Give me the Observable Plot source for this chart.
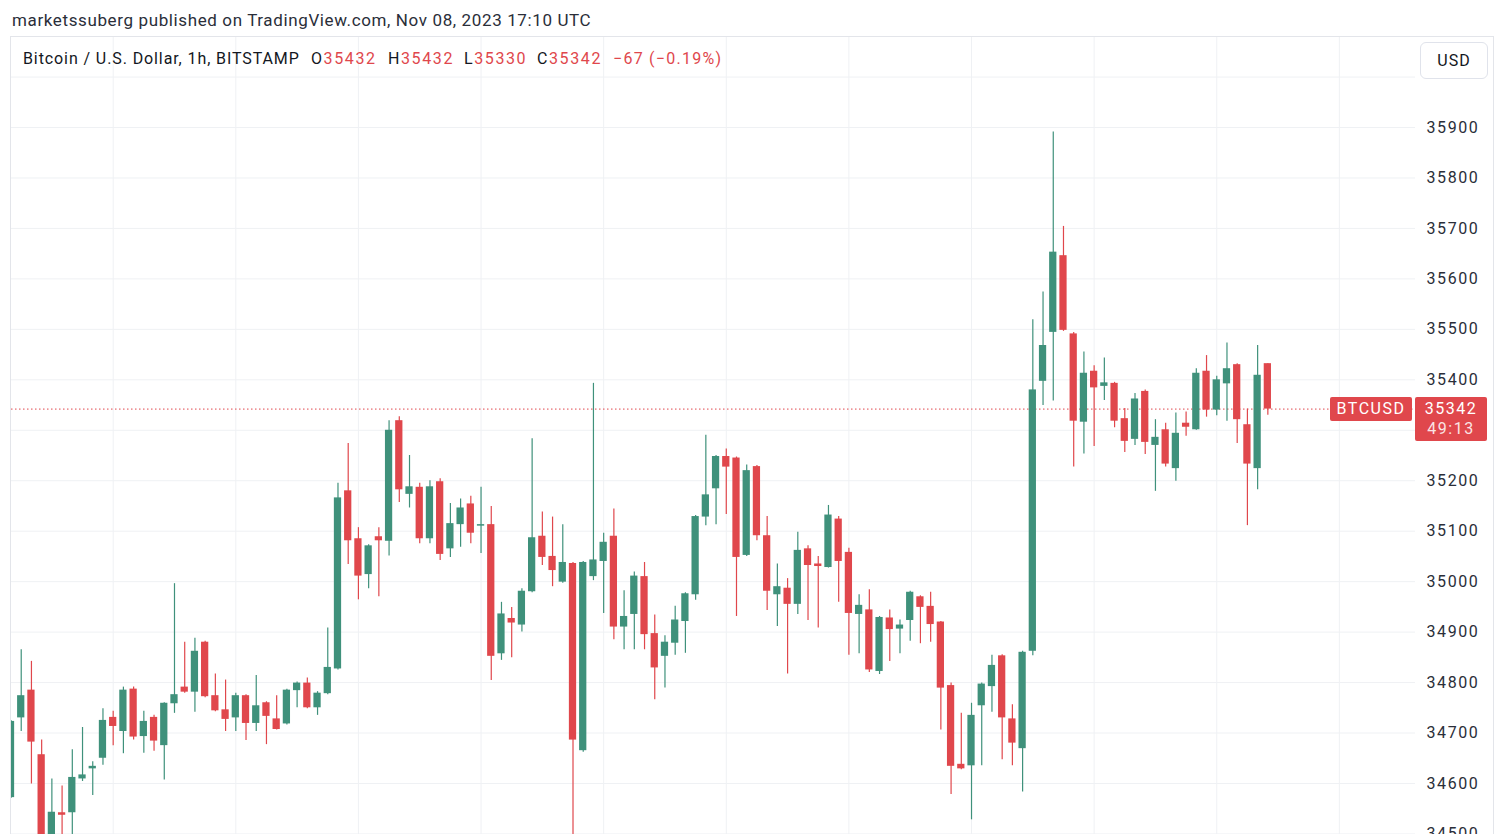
<!DOCTYPE html>
<html><head><meta charset="utf-8">
<script src="https://cdn.jsdelivr.net/npm/d3@7"></script>
<script src="https://cdn.jsdelivr.net/npm/@observablehq/plot@0.6"></script>
<style>
html,body{margin:0;padding:0;background:#fff;width:1508px;height:834px;overflow:hidden;font-family:Roboto,"Noto Sans",sans-serif;}
#title{position:absolute;left:12px;top:10px;font-size:17px;letter-spacing:0.62px;color:#2a2e39;white-space:pre;}
#frame{position:absolute;left:10px;top:36px;width:1484px;height:820px;border:1px solid #e3e5ea;box-sizing:border-box;}
#chart{position:absolute;left:0;top:37px;}
.lg{position:absolute;top:49px;font-size:16px;color:#131722;white-space:pre;line-height:20px;}
.lg .v{color:#e0474c}
#usd{position:absolute;left:1420px;top:42px;width:68px;height:37px;border:1px solid #e0e3eb;border-radius:6px;box-sizing:border-box;font-size:16px;letter-spacing:1px;color:#131722;display:flex;align-items:center;justify-content:center;background:#fff;}
.tag{position:absolute;background:#e0474c;color:#fff;font-size:16px;border-radius:2px;letter-spacing:1.5px;}
.tl{position:absolute;left:0;width:100%;text-align:center;line-height:18px;height:18px;}
</style>
</head><body>
<div id="title">marketssuberg published on TradingView.com, Nov 08, 2023 17:10 UTC</div>
<div id="frame"></div>
<div id="chart"></div>
<div id="usd">USD</div>
<script>
const symbolName = "Bitcoin / U.S. Dollar, 1h, BITSTAMP";
const countdown = "49:13";
const tickerLabel = "BTCUSD";
const yTicks = [34500,34600,34700,34800,34900,35000,35100,35200,35300,35400,35500,35600,35700,35800,35900,36000];
// 35300 sits under the price tag and 36000 under the USD button, as in the source
const yLabels = [34500,34600,34700,34800,34900,35000,35100,35200,35400,35500,35600,35700,35800,35900];

const opens = [34572,34730,34785,34657,34472,34542,34542,34609,34629,34650,34731,34703,34787,34693,34731,34675,34758,34791,34781,34880,
34774,34746,34730,34774,34719,34760,34728,34718,34784,34799,34750,34778,34827,35180,35085,35014,35089,35080,35319,35173,
35187,35085,35198,35065,35113,35154,35110,35113,34857,34927,34914,34980,35090,35050,34999,35036,34665,35010,35040,35090,
34910,34935,35010,34897,34852,34878,34921,34974,35128,35184,35248,35245,35052,35228,35091,34974,34987,34955,35065,35035,
35028,35124,35058,34935,34944,34822,34928,34906,34923,34970,34951,34920,34794,34638,34635,34754,34792,34853,34728,34669,
34862,35397,35494,35646,35491,35316,35417,35387,35393,35323,35282,35377,35270,35301,35224,35314,35301,35417,35340,35392,
35430,35311,35224,35432];
const highs = [34725,34865,34842,34686,34609,34595,34667,34711,34643,34748,34743,34791,34791,34743,34735,34760,34996,34880,34888,34882,
34817,34805,34779,34776,34814,34762,34774,34787,34801,34809,34782,34908,35195,35274,35107,35073,35107,35319,35327,35250,
35195,35200,35204,35155,35164,35169,35187,35149,34959,34949,34986,35283,35138,35128,35113,35038,35040,35393,35096,35144,
34982,35019,35038,34934,34893,34951,34978,35131,35290,35250,35263,35247,35231,35230,35129,35035,35006,35098,35071,35050,
35151,35129,35066,34974,34984,34931,34944,34924,34981,34972,34979,34921,34799,34739,34759,34799,34854,34855,34756,34862,
35519,35574,35891,35704,35494,35455,35428,35443,35395,35343,35373,35380,35321,35314,35334,35336,35422,35448,35407,35473,
35432,35342,35468,35432];
const lows = [34570,34703,34599,34440,34460,34470,34480,34604,34576,34636,34675,34659,34686,34660,34664,34607,34739,34779,34741,34770,
34742,34703,34703,34685,34703,34677,34706,34716,34750,34748,34735,34776,34825,35034,34964,34986,34970,35051,35157,35146,
35075,35075,35042,35048,35068,35075,35056,34804,34844,34849,34900,34978,35032,34990,34997,34480,34662,35002,34937,34885,
34865,34865,34865,34766,34789,34854,34858,34963,35111,35113,35133,34931,35050,35081,34943,34911,34817,34935,34923,34908,
35027,34959,34854,34857,34820,34816,34842,34857,34882,34877,34880,34706,34578,34627,34528,34635,34741,34647,34635,34583,
34853,35349,35358,35496,35227,35253,35268,35359,35305,35256,35270,35252,35179,35227,35199,35288,35300,35326,35329,35318,
35274,35111,35182,35330];
const closes = [34723,34774,34682,34470,34543,34537,34612,34617,34634,34725,34713,34785,34692,34723,34684,34759,34776,34781,34862,34772,
34744,34727,34774,34719,34754,34733,34707,34785,34799,34750,34779,34830,35166,35081,35011,35071,35081,35300,35182,35188,
35085,35188,35054,35115,35146,35096,35113,34852,34936,34918,34981,35087,35048,35022,35038,34686,35038,35043,35078,34910,
34931,35011,34895,34829,34880,34924,34976,35129,35172,35248,35227,35048,35220,35091,34981,34990,34955,35062,35032,35030,
35132,35040,34937,34953,34825,34929,34905,34914,34979,34949,34915,34789,34634,34629,34735,34797,34834,34730,34680,34860,
35380,35468,35653,35498,35318,35413,35384,35394,35318,35278,35362,35276,35286,35233,35294,35306,35413,35340,35400,35422,
35321,35233,35409,35342];

const GREEN = "#3f917b", RED = "#e0474c";
const idx = d3.range(opens.length);
const last = opens.length - 1;
const col = i => closes[i] >= opens[i] ? GREEN : RED;

const chart = Plot.plot({
  width: 1508, height: 797,
  marginLeft: 11, marginRight: 93, marginTop: 0, marginBottom: 0,
  x: {type: "linear", domain: [0.049, 137.45], axis: null},
  y: {domain: [34498.9, 36078.4], axis: null},
  style: {fontFamily: "Roboto, 'Noto Sans', sans-serif", fontSize: "16px", letterSpacing: "1.6px", background: "transparent", overflow: "visible"},
  marks: [
    Plot.gridX(d3.range(10, 137, 12), {stroke: "#eff1f4", strokeOpacity: 1}),
    Plot.gridY(yTicks, {stroke: "#eff1f4", strokeOpacity: 1}),
    Plot.axisY(yLabels, {anchor: "right", tickSize: 0, tickPadding: 11, textAnchor: "start", label: null,
      tickFormat: d => String(d), fill: "#2a2e39", fontSize: 16}),
    Plot.ruleY([closes[last]], {stroke: RED, strokeDasharray: "1.5,2.5", strokeWidth: 1}),
    Plot.ruleX(idx, {x: i => i, y1: i => lows[i], y2: i => highs[i], stroke: col, strokeWidth: 1.2, clip: true}),
    Plot.rect(idx, {x1: i => i - 0.355, x2: i => i + 0.355, y1: i => opens[i], y2: i => closes[i], fill: col, clip: true})
  ]
});
document.getElementById("chart").appendChild(chart);

// legend (O H L C and change of the last bar)
const fmt = v => String(Math.round(v));
const chg = Math.round(closes[last] - closes[last - 1]);
const pct = chg / closes[last - 1] * 100;
const minus = v => (v < 0 ? "\u2212" : "+");
const segs = [
  {left: 23, ls: 0.9, html: symbolName},
  {left: 311, ls: 1.6, html: `O<span class="v">${fmt(opens[last])}</span>`},
  {left: 388, ls: 1.6, html: `H<span class="v">${fmt(highs[last])}</span>`},
  {left: 464, ls: 1.6, html: `L<span class="v">${fmt(lows[last])}</span>`},
  {left: 537, ls: 1.6, html: `C<span class="v">${fmt(closes[last])}</span>`},
  {left: 613, ls: 1.25, html: `<span class="v">${minus(chg)}${Math.abs(chg)} (${minus(chg)}${Math.abs(pct).toFixed(2)}%)</span>`}
];
for (const s of segs) {
  const d = document.createElement("div");
  d.className = "lg";
  d.style.left = s.left + "px";
  d.style.letterSpacing = s.ls + "px";
  d.innerHTML = s.html;
  document.body.appendChild(d);
}

// price tags positioned with the y scale
const yS = chart.scale("y");
const py = yS.apply(closes[last]) + 37;
const t1 = document.createElement("div");
t1.className = "tag";
t1.style.cssText = `left:1330px;top:${py-12}px;width:82px;height:24px;line-height:24px;text-align:center;`;
t1.textContent = tickerLabel;
document.body.appendChild(t1);
const t2 = document.createElement("div");
t2.className = "tag";
t2.style.cssText = `left:1415px;top:${py-12}px;width:72px;height:44px;`;
t2.innerHTML = `<div class="tl" style="top:3px">${fmt(closes[last])}</div><div class="tl" style="top:23px;opacity:0.85">${countdown}</div>`;
document.body.appendChild(t2);
</script>
</body></html>
